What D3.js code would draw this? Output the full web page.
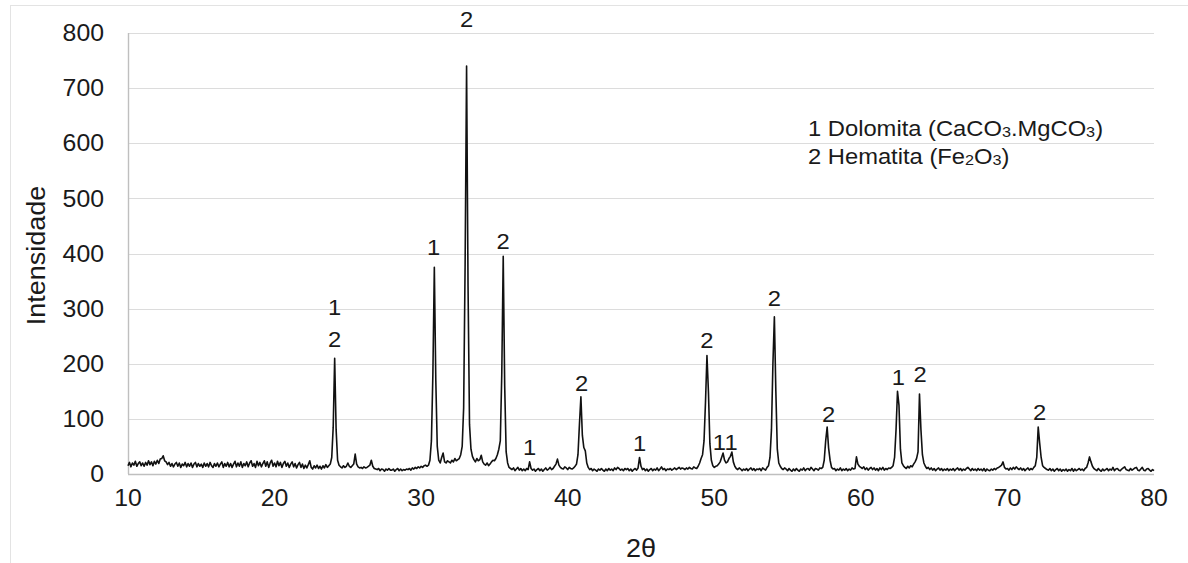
<!DOCTYPE html>
<html>
<head>
<meta charset="utf-8">
<script src="https://cdn.jsdelivr.net/npm/d3@7/dist/d3.min.js"></script>
<style>
  html, body { margin: 0; padding: 0; background: #fff; }
  svg text { font-family: "Liberation Sans", Arial, sans-serif; fill: #1a1a1a; }
</style>
</head>
<body>
<svg id="chart" width="1188" height="563"></svg>
<script>
// ---- Data ----
const twoThetaStart = 10;
const twoThetaStep = 0.1;
// Intensity sampled every 0.1 degrees 2θ, from 10.0 to 80.0 (one row per degree)
const intensity = [
  15,21,13,20,16,23,14,19,22,15,   // 10
  20,14,21,16,24,17,22,15,23,18,   // 11
  25,19,27,28,33,24,22,17,21,14,   // 12
  19,13,18,21,14,20,12,18,15,21,   // 13
  13,19,14,20,12,18,21,13,19,14,   // 14
  18,12,20,14,19,13,21,15,12,19,   // 15
  14,20,13,18,22,12,19,14,21,13,   // 16
  19,12,18,23,13,20,14,22,12,19,   // 17
  15,22,13,20,24,14,19,12,23,15,   // 18
  21,13,19,24,14,22,12,20,25,14,   // 19
  20,13,23,15,21,12,19,23,14,20,   // 20
  12,18,22,13,19,11,17,21,12,18,   // 21
  10,16,11,17,24,12,9,15,11,16,    // 22
  10,14,9,15,11,17,12,15,18,30,    // 23
  85,210,80,25,16,13,11,15,12,14,  // 24
  20,14,12,15,18,36,18,13,11,12,   // 25
  10,13,11,12,14,16,25,14,10,9,    // 26
  8,10,6,9,8,5,9,7,10,7,           // 27
  7,9,5,8,10,6,9,6,8,7,            // 28
  9,8,10,7,11,9,12,10,13,11,       // 29
  14,12,15,16,14,16,25,60,180,375, // 30
  170,50,25,20,30,38,22,20,24,22,  // 31
  20,25,22,28,24,26,28,35,50,120,  // 32
  380,740,340,90,45,32,26,22,28,24,// 33
  26,34,22,18,16,20,15,18,22,25,   // 34
  24,28,35,45,60,180,395,160,40,20,// 35
  12,10,8,11,6,9,12,7,10,6,        // 36
  9,6,10,8,22,10,7,9,5,8,          // 37
  10,6,9,5,8,11,7,9,12,8,          // 38
  10,14,18,27,16,12,10,9,13,11,    // 39
  8,12,10,9,11,14,18,35,90,140,    // 40
  70,48,42,20,12,8,10,6,9,7,       // 41
  5,9,7,10,7,5,9,6,10,7,           // 42
  9,6,11,8,12,10,7,9,6,10,         // 43
  8,10,6,9,5,8,10,7,11,30,         // 44
  14,8,10,6,9,5,8,10,6,9,          // 45
  7,11,6,9,13,8,10,6,9,8,          // 46
  10,7,9,11,8,10,12,9,11,10,       // 47
  8,11,9,12,10,9,13,11,10,14,      // 48
  20,28,35,60,130,215,150,55,25,15,// 49
  12,14,15,18,22,30,38,25,20,22,   // 50
  28,32,40,22,14,10,8,11,9,6,      // 51
  9,7,10,6,9,11,7,10,6,9,          // 52
  8,10,6,11,9,7,12,15,30,80,       // 53
  200,285,150,45,20,14,10,8,11,9,  // 54
  6,10,7,5,9,6,10,7,5,9,           // 55
  7,11,6,9,10,7,12,9,6,10,         // 56
  9,7,11,10,12,25,60,85,47,25,     // 57
  12,9,10,6,9,7,11,6,9,7,          // 58
  10,6,9,7,11,9,10,31,18,14,       // 59
  12,10,13,8,11,7,10,12,8,11,      // 60
  7,10,6,11,8,12,7,10,8,11,        // 61
  10,12,15,30,80,150,125,45,20,15, // 62
  12,10,14,11,15,13,18,22,28,40,   // 63
  145,80,35,20,14,10,12,8,11,7,    // 64
  10,6,9,11,7,10,6,9,7,10,         // 65
  6,9,7,10,6,9,11,7,10,6,          // 66
  9,7,10,12,9,6,10,7,9,6,          // 67
  10,7,9,6,10,5,9,7,6,9,           // 68
  7,10,8,11,12,14,16,22,12,9,      // 69
  10,7,11,8,12,9,13,10,8,11,       // 70
  7,10,6,9,11,7,10,8,12,15,        // 71
  30,85,56,30,15,12,10,8,7,10,     // 72
  6,9,5,8,10,6,9,5,8,6,            // 73
  9,5,8,6,10,5,9,6,8,10,           // 74
  7,9,6,10,12,20,31,22,14,10,      // 75
  8,6,10,7,5,9,6,8,10,6,           // 76
  9,7,12,6,9,10,7,6,9,11,          // 77
  13,8,7,6,10,7,9,11,12,7,         // 78
  6,9,12,7,6,9,10,7,5,8,           // 79
  6                                // 80
];

const xTicks = [10, 20, 30, 40, 50, 60, 70, 80];
const yTicks = [0, 100, 200, 300, 400, 500, 600, 700, 800];

// Phase labels above peaks: 2θ position, intensity level, phase number
const peakLabelTheta = [24.1, 24.1, 30.85, 33.1, 35.6, 37.4, 40.95, 44.9, 49.5, 50.35, 51.15, 54.1, 57.8, 62.55, 64.05, 72.2];
const peakLabelLevel = [302, 245, 412, 825, 422, 49, 165, 56, 243, 58, 58, 319, 108, 176, 180, 111];
const peakLabelText  = ["1", "2", "1", "2", "2", "1", "2", "1", "2", "1", "1", "2", "2", "1", "2", "2"];

const legendNumbers = ["1", "2"];
const legendParts = [
  [["Dolomita (CaCO", false], ["3", true], [".MgCO", false], ["3", true], [")", false]],
  [["Hematita (Fe", false], ["2", true], ["O", false], ["3", true], [")", false]]
];

const xTitle = "2θ";
const yTitle = "Intensidade";

// ---- Chart ----
const W = 1188, H = 563;
const plot = { left: 128, right: 1154, top: 33, bottom: 474 };
const SX = 1.08; // horizontal stretch of text in the reference

const svg = d3.select("#chart");

const x = d3.scaleLinear().domain([10, 80]).range([plot.left, plot.right]);
const y = d3.scaleLinear().domain([0, 800]).range([plot.bottom, plot.top]);

// outer faint border
svg.append("rect")
  .attr("x", 10.5).attr("y", 5.5).attr("width", W - 4).attr("height", H)
  .attr("fill", "none").attr("stroke", "#e3e3e3").attr("stroke-width", 1);

// gridlines
svg.append("g")
  .selectAll("line")
  .data(yTicks.filter(d => d > 0))
  .join("line")
  .attr("x1", plot.left).attr("x2", plot.right)
  .attr("y1", d => Math.round(y(d)) + 0.5).attr("y2", d => Math.round(y(d)) + 0.5)
  .attr("stroke", "#dcdcdc").attr("stroke-width", 1.2);

// axis lines
svg.append("line")
  .attr("x1", plot.left + 0.5).attr("x2", plot.left + 0.5)
  .attr("y1", plot.top).attr("y2", plot.bottom)
  .attr("stroke", "#bfbfbf").attr("stroke-width", 1.4);
svg.append("line")
  .attr("x1", plot.left).attr("x2", plot.right)
  .attr("y1", plot.bottom + 0.5).attr("y2", plot.bottom + 0.5)
  .attr("stroke", "#bfbfbf").attr("stroke-width", 1.4);

function stretchedText(sel, px, py, txt, size, anchor, rot) {
  return sel.append("text")
    .attr("transform", `translate(${px},${py})` + (rot ? ` rotate(${rot})` : "") + ` scale(${SX},1)`)
    .attr("text-anchor", anchor)
    .attr("dominant-baseline", "central")
    .attr("font-size", size)
    .text(txt);
}

// y tick labels
const yLab = svg.append("g");
yTicks.forEach(v => stretchedText(yLab, 104, y(v), String(v), 23, "end"));

// x tick labels
const xLab = svg.append("g");
xTicks.forEach(v => stretchedText(xLab, x(v), 498, String(v), 23, "middle"));

// axis titles
stretchedText(svg, 36, (plot.top + plot.bottom) / 2 + 2, yTitle, 25, "middle", -90);
stretchedText(svg, (plot.left + plot.right) / 2, 548, xTitle, 25, "middle");

// the diffraction pattern
const points = intensity.map((v, i) => [twoThetaStart + i * twoThetaStep, v]);
const line = d3.line().x(d => x(d[0])).y(d => y(d[1]));
svg.append("path")
  .datum(points)
  .attr("d", line)
  .attr("fill", "none")
  .attr("stroke", "#111")
  .attr("stroke-width", 1.6)
  .attr("stroke-linejoin", "round");

// peak labels
const pl = svg.append("g");
peakLabelTheta.forEach((t, i) => stretchedText(pl, x(t), y(peakLabelLevel[i]), peakLabelText[i], 22, "middle"));

// legend
const lg = svg.append("g");
legendParts.forEach((parts, i) => {
  const ty = 136 + i * 28;
  const t = lg.append("text")
    .attr("transform", `translate(808,${ty}) scale(${SX},1)`)
    .attr("font-size", 22);
  t.append("tspan").text(legendNumbers[i] + " ");
  let prevSub = false;
  parts.forEach(([s, sub]) => {
    const ts = t.append("tspan").text(s);
    if (sub) ts.attr("font-size", 15).attr("dy", prevSub ? 0 : 1);
    else if (prevSub) ts.attr("dy", -1);
    prevSub = sub;
  });
});
</script>
</body>
</html>
